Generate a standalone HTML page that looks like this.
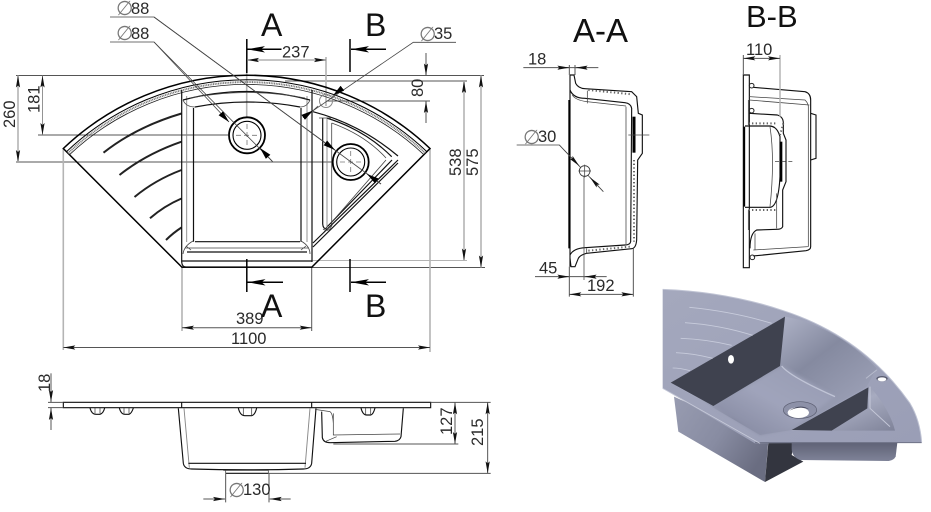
<!DOCTYPE html>
<html><head><meta charset="utf-8"><title>Corner sink drawing</title>
<style>
html,body{margin:0;padding:0;background:#fff;width:931px;height:512px;overflow:hidden}
svg{display:block}
text{font-family:"Liberation Sans",sans-serif;fill:#2a2a2a;font-size:16.5px}
.phi{font-family:"DejaVu Sans",sans-serif;fill:#777;font-size:20px}
.big{font-size:32px;fill:#111}
.d{stroke:#555;stroke-width:1;fill:none}
.g{stroke:#b4b4b4;stroke-width:1.6;fill:none}
.k{stroke:#111;stroke-width:1.2;fill:none}
.t{stroke:#444;stroke-width:.8;fill:none}
.m{stroke:#888;stroke-width:.9;fill:none}
.z .k{stroke-width:3.4}.z .t{stroke-width:2.3}.z .m{stroke-width:2.8}.z .d{stroke-width:3}.z .g{stroke-width:4.5}
</style></head><body>
<svg width="931" height="512" viewBox="0 0 931 512" xmlns="http://www.w3.org/2000/svg">
<defs>
<marker id="a" markerUnits="userSpaceOnUse" markerWidth="13" markerHeight="6" refX="12" refY="3" orient="auto-start-reverse"><path d="M0 .9L12 3L0 5.1L2 3Z" fill="#111"/></marker>
<marker id="b" markerUnits="userSpaceOnUse" markerWidth="19" markerHeight="8" refX="18" refY="4" orient="auto-start-reverse"><path d="M0 .8L18 4L0 7.2L4 4Z" fill="#000"/></marker>
<marker id="c" markerUnits="userSpaceOnUse" markerWidth="13" markerHeight="7" refX="12" refY="3.5" orient="auto-start-reverse"><path d="M0 .5L12 3.5L0 6.5Z" fill="#000"/></marker>
<marker id="az" markerUnits="userSpaceOnUse" markerWidth="39" markerHeight="18" refX="36" refY="9" orient="auto-start-reverse"><path d="M0 2.7L36 9L0 15.3L6 9Z" fill="#111"/></marker>
<linearGradient id="top" x1="0" y1="0" x2="1" y2="1"><stop offset="0" stop-color="#a4a8bd"/><stop offset="1" stop-color="#9a9eb6"/></linearGradient>
<linearGradient id="wall" x1="0" y1="0" x2="1" y2=".75"><stop offset="0" stop-color="#8f93a9"/><stop offset=".3" stop-color="#b4b8cc"/><stop offset=".62" stop-color="#858aa0"/><stop offset="1" stop-color="#a0a4ba"/></linearGradient>
<linearGradient id="floor" x1="0" y1="1" x2="1" y2="0"><stop offset="0" stop-color="#7f839b"/><stop offset=".5" stop-color="#a0a4bb"/><stop offset="1" stop-color="#959ab1"/></linearGradient>
<linearGradient id="side" x1="0" y1="0" x2="1" y2=".6"><stop offset="0" stop-color="#989cb1"/><stop offset=".55" stop-color="#888ca2"/><stop offset="1" stop-color="#6a6d81"/></linearGradient>
<linearGradient id="tub" x1="0" y1="0" x2="0" y2="1"><stop offset="0" stop-color="#5f6276"/><stop offset="1" stop-color="#7f8398"/></linearGradient>
<linearGradient id="sw" x1="0" y1="0" x2="1" y2="1"><stop offset="0" stop-color="#6f7388"/><stop offset=".5" stop-color="#a7abc0"/><stop offset="1" stop-color="#7f8399"/></linearGradient>
<filter id="bl" x="-10%" y="-10%" width="120%" height="120%"><feGaussianBlur stdDeviation="5"/></filter>
</defs>

<!-- PLAN: extension lines -->
<path class="d" d="M16 75.5H484M38 135H228M16 162H333M326 101H430"/>
<path class="g" style="stroke-width:1" d="M312 260.5H467"/>
<path class="d" d="M285 81H467M312 267.5H485"/>
<path class="g" d="M63.3 149V350M182 267V331M430 149V352M326 57V106M246.7 60V150"/>
<path class="d" d="M311.7 267V331"/>
<!-- PLAN: sink outline -->
<path d="M63.3 148.5A266 266 0 0 1 430 148.5L311.7 267.3H182Z" fill="none" stroke="#000" stroke-width="1.5"/>
<path d="M66.5 151.7A261.500 261.500 0 0 1 426.900 151.700" fill="none" stroke="#000" stroke-width="1"/>
<path d="M68 153.200A260 260 0 0 1 425.400 153.200" fill="none" stroke="#777" stroke-width="1.900" stroke-dasharray="1 .7"/>
<path d="M69.500 154.700A258.500 258.500 0 0 1 423.900 154.700" fill="none" stroke="#222" stroke-width=".8"/>
<!-- grooves -->
<g stroke="#222" stroke-width="2" fill="none">
<path d="M103.5 152.7Q136 127 181.5 113.5"/>
<path d="M119.5 175Q146 154 181.5 141.7"/>
<path d="M134.5 197Q155 180 181.5 170"/>
<path d="M150 218.3Q164 206 181.5 198.5"/>
<path d="M166 240Q173 233 181.5 227.5"/>
</g>
<!-- Main basin -->
<path class="k" d="M181.7 90V262Q182 267 186 267M181.7 261H312M181.7 267H312"/>
<path class="k" d="M312 90V245M312 245V262"/>
<path class="m" d="M186.7 96V242M307 96V242"/>
<path class="k" d="M193.5 108V241.7M301 108V241.7"/>
<path class="k" d="M183 100Q247 83 310 100"/>
<path class="k" d="M195 107Q247 97 300 107"/>
<path class="t" d="M190 98Q247 87 305 98"/>
<path class="k" d="M195 241.7H300M187 252H307"/>
<path class="t" d="M185 248H309M183 100Q186 107 195 107M310 100Q307 107 300 107M193 241Q184 246 183 254M301 241Q310 246 310 254M186 246L191 250M306 246L301 250"/>
<!-- Small basin -->
<path class="k" d="M313 111.7Q360 124 398 156M322.7 118V224Q323 229 327 229M326.7 118Q365 130 391.7 156.7"/>
<path class="t" d="M331.7 123Q365 135 386 158M331.7 123V226"/>
<path class="k" d="M326 228L392 160M313 243L398 160M313 247L398 163"/>
<path class="t" d="M319 118H331M323 229Q329 233 332 225"/>
<path class="t" d="M331 223L386 160M305 118L318 106"/>
<path class="m" d="M327 119V229"/>
<!-- holes -->
<circle cx="247" cy="135.3" r="18" fill="#fff" stroke="#000" stroke-width="1.8"/>
<circle cx="247" cy="135.3" r="14" fill="none" stroke="#000" stroke-width="1.1"/>
<circle cx="350.7" cy="162" r="18" fill="#fff" stroke="#000" stroke-width="1.8"/>
<circle cx="350.7" cy="162" r="14" fill="none" stroke="#000" stroke-width="1.1"/>
<path stroke="#777" stroke-width=".8" stroke-dasharray="5 3" d="M236 135.3H258M247 124V146M340 162H362M350.7 151V173"/>
<circle cx="326" cy="101" r="6.5" fill="none" stroke="#888" stroke-width="1"/>
<!-- Leaders -->
<path class="t" d="M110 17H154L381 184"/>
<path class="t" d="M110 42H154L272.7 161.7"/>
<path class="t" d="M456 42.3H413.3L303.3 117.3"/>
<path d="M154 42L229 122" class="t" marker-end="url(#c)"/>
<path d="M272 161L260 148" class="t" marker-end="url(#c)"/>
<path d="M154 17L335 150" class="t" marker-end="url(#c)"/>
<path d="M381 184L367 174" class="t" marker-end="url(#c)"/>
<path d="M340 90L333 95.5" class="t" marker-end="url(#c)"/>
<path d="M303 117.5L313 110.5" class="t" marker-end="url(#c)"/>
<!-- Section lines -->
<g stroke="#000" stroke-width="1.5" fill="none">
<path d="M246.8 39V73M350 39V72M246.8 259V292M350 259V292"/>
<path d="M281.5 49.3H247" marker-end="url(#b)"/>
<path d="M386 49.3H351" marker-end="url(#b)"/>
<path d="M283 282.3H247.500" marker-end="url(#b)"/>
<path d="M386 282.3H351" marker-end="url(#b)"/>
</g>
<!-- Dim lines -->
<path class="m" d="M247 60H326" marker-start="url(#a)" marker-end="url(#a)"/>
<path class="d" d="M182 327.7H311.7" marker-start="url(#a)" marker-end="url(#a)"/>
<path class="d" d="M63.3 347.5H430" marker-start="url(#a)" marker-end="url(#a)"/>
<path class="g" d="M18 75.5V162" marker-start="url(#a)" marker-end="url(#a)"/>
<path class="m" d="M42.5 75.5V135" marker-start="url(#a)" marker-end="url(#a)"/>
<path class="g" d="M464 81V260.5" marker-start="url(#a)" marker-end="url(#a)"/>
<path class="g" d="M481 75.5V267.5" marker-start="url(#a)" marker-end="url(#a)"/>
<path class="d" d="M426 53V75.5" marker-end="url(#a)"/>
<path class="d" d="M426 123V101" marker-end="url(#a)"/>
<!-- Plan text -->
<text class="phi" x="116" y="15">∅</text><text x="131" y="14">88</text>
<text class="phi" x="116" y="40">∅</text><text x="131" y="39">88</text>
<text class="phi" x="419" y="41">∅</text><text x="434" y="39">35</text>
<text x="282" y="57.5">237</text>
<text x="236" y="324">389</text>
<text x="231" y="344">1100</text>
<text transform="translate(15,128) rotate(-90)">260</text>
<text transform="translate(39.5,113) rotate(-90)">181</text>
<text transform="translate(423,97) rotate(-90)">80</text>
<text transform="translate(461,176) rotate(-90)">538</text>
<text transform="translate(478,176) rotate(-90)">575</text>
<text class="big" x="261" y="36">A</text>
<text class="big" x="365" y="36">B</text>
<text class="big" x="261" y="317">A</text>
<text class="big" x="365" y="317">B</text>

<!-- SIDE ELEVATION -->
<g class="z" transform="translate(20,370) scale(.33333)">
<path class="k" d="M130 97H1232V113H130Z"/>
<path class="k" d="M485 97V114M875 97V114"/>
<path class="d" d="M84 97H130M84 113H130M1232 97H1412M940 222H1315M745 310H1412"/>
<path class="k" d="M475 115L490 280Q493 297 515 297Q680 302 850 297Q872 297 875 280L888 115"/>
<path class="m" d="M492 115L508 293M870 115L855 293"/>
<path class="k" d="M505 280H858M610 300H745M617 310H745"/>
<path class="t" d="M617 300L617 310M745 300V310"/>
<path class="k" d="M905 125L907 203Q910 218 930 218L1125 214Q1140 212 1143 200L1150 115"/>
<path class="t" d="M940 130V195L1140 192M915 215L950 200M885 118L930 125Q938 130 940 160"/>
<path class="k" d="M210 114Q215 133 228 133H240Q250 130 254 114M298 114Q303 133 315 133H327Q335 130 340 114M655 114Q660 137 675 137H695Q705 135 710 114M1023 114Q1028 135 1040 135H1052Q1060 133 1065 114"/>
<path class="t" d="M225 114V130M240 114V130M312 114V130M327 114V130M670 114V135M695 114V135M1037 114V133M1052 114V133"/>
<path class="d" d="M93 10V96" marker-end="url(#az)"/>
<path class="d" d="M93 180V114" marker-end="url(#az)"/>
<path class="d" d="M1305 97V222" marker-start="url(#az)" marker-end="url(#az)"/>
<path class="d" d="M1403 97V310" marker-start="url(#az)" marker-end="url(#az)"/>
<path class="d" d="M617 310V397M747 310V397"/>
<path class="d" d="M550 387H615" marker-end="url(#az)"/>
<path class="d" d="M812 387H749" marker-end="url(#az)"/>
</g>
<text transform="translate(50,392) rotate(-90)">18</text>
<text transform="translate(452,435) rotate(-90)">127</text>
<text transform="translate(483,446) rotate(-90)">215</text>
<text class="phi" x="228" y="497">∅</text><text x="243" y="495">130</text>

<!-- A-A -->
<g class="z" transform="translate(510,0) scale(.33333)">
<path class="k" d="M180 225H192L197 250Q205 265 225 266L365 275L380 290L385 340L397 345V460L383 480L380 720Q378 745 365 746L230 760Q210 765 205 775L195 800H183L180 775"/>
<path class="k" d="M180 225V800"/>
<path d="M178 300V745" stroke="#000" stroke-width="6" fill="none"/>
<path class="k" d="M180 270Q190 295 225 295L345 308Q362 310 365 325L362 725Q360 735 345 735L225 743Q190 745 180 765"/>
<path class="t" d="M187 285Q195 300 230 305L348 318M232 272V310M230 745V760M348 320V732"/>
<path stroke="#666" stroke-width="6" stroke-dasharray="4 7" fill="none" d="M235 270L365 283M235 752L360 740M372 480L372 725"/>
<path d="M372 350V458" stroke="#000" stroke-width="9"/>
<path class="t" d="M355 405H418"/>
<path class="d" d="M40 203H265M178 195V225M195 195V225"/>
<path class="d" d="M145 203H178" marker-end="url(#az)"/>
<path class="d" d="M230 203H197" marker-end="url(#az)"/>
<path class="t" d="M20 435H148L280 575"/>
<path d="M148 435L208 498" class="t" marker-end="url(#az)"/>
<path d="M280 575L240 532" class="t" marker-end="url(#az)"/>
<circle cx="224" cy="513" r="16" fill="#fff" stroke="#333" stroke-width="2.5"/>
<path class="t" d="M205 513H243M224 494V532"/>
<path class="t" d="M222 530V840"/>
<path class="d" d="M75 830H290M178 800V890M370 745V890"/>
<path class="d" d="M145 830H178" marker-end="url(#az)"/>
<path class="d" d="M255 830H224" marker-end="url(#az)"/>
<path class="d" d="M178 883H370" marker-start="url(#az)" marker-end="url(#az)"/>
</g>
<text x="528" y="64.5">18</text>
<text class="phi" x="523" y="144">∅</text><text x="538" y="142">30</text>
<text x="539" y="273.5">45</text>
<text x="587" y="291">192</text>
<text class="big" style="font-size:33px" x="573" y="42">A-A</text>

<!-- B-B -->
<g class="z" transform="translate(720,0) scale(.33333)">
<path class="k" d="M70 225H88V803H70Z"/>
<path class="k" d="M100 262L255 275Q272 280 272 300V740Q272 750 258 752L100 768"/>
<path class="t" d="M88 290L255 300Q265 310 265 320V740M88 300L268 315M100 750L265 740"/>
<path class="k" d="M272 340L288 345V475L272 480"/>
<path class="k" d="M88 340L172 345Q190 350 190 370V400L198 420V545L188 570V680Q185 688 170 688L110 690Q90 700 90 745"/>
<path class="k" d="M75 378H150Q172 380 180 410V530Q175 620 150 622H75"/>
<path class="t" d="M150 380Q165 480 150 620M85 300V375M85 630V690M170 580V685M105 700V750"/>
<path d="M183 425V545" stroke="#000" stroke-width="8"/>
<path d="M73 380V620" stroke="#000" stroke-width="5"/>
<path stroke="#666" stroke-width="6" stroke-dasharray="4 7" fill="none" d="M85 370L170 370M85 630H170M190 370L180 405"/>
<circle cx="95" cy="257" r="7" fill="none" stroke="#222" stroke-width="3"/>
<circle cx="95" cy="332" r="7" fill="none" stroke="#222" stroke-width="3"/>
<circle cx="97" cy="772" r="7" fill="none" stroke="#222" stroke-width="3"/>
<path class="t" d="M165 485H218" stroke-dasharray="12 8"/>
<path class="d" d="M70 165V225"/>
<path class="g" d="M180 165V350"/>
<path class="d" d="M70 175H180" marker-start="url(#az)" marker-end="url(#az)"/>
</g>
<text x="746" y="55">110</text>
<text class="big" style="font-size:31px" x="746" y="27">B-B</text>

<!-- 3D render -->
<g transform="translate(650,280) scale(.33333)">
<path d="M72 350L85 455L345 606L355 480Z" fill="url(#side)"/>
<path d="M355 488H432L425 525L460 545L345 606Z" fill="#33353f"/>
<path d="M425 488H742L737 530Q730 543 712 543L450 540Q425 530 425 505Z" fill="url(#tub)"/>
<path d="M38 28Q230 35 400 92Q640 170 780 370Q810 420 815 487L315 490L38 325Z" fill="url(#top)"/>
<path d="M38 28Q230 35 400 92Q640 170 780 370Q810 420 815 487" fill="none" stroke="#c0c4d4" stroke-width="3"/>
<path d="M315 488H815" stroke="#6d7085" stroke-width="3"/>
<path d="M405 110Q560 140 680 265L650 320L425 450L330 465L62 308Z" fill="url(#wall)"/>
<path d="M190 378L395 258L555 350L425 447L330 465Z" fill="url(#floor)" filter="url(#bl)"/>
<path d="M405 110L62 308L190 378L390 258Z" fill="#3f424f"/>
<path d="M395 258Q420 290 555 350" stroke="#c0c4d6" stroke-width="4" fill="none"/>
<ellipse cx="243" cy="238" rx="9" ry="13" fill="#fff"/>
<ellipse cx="450" cy="390" rx="50" ry="25" fill="#8d91a8" stroke="#5a5d70" stroke-width="2"/>
<ellipse cx="445" cy="398" rx="32" ry="16" fill="#fff"/>
<path d="M418 392Q450 370 478 388Q450 376 418 392Z" fill="#44465a"/>
<path d="M660 320Q720 390 735 452L425 452Z" fill="url(#sw)"/>
<path d="M655 322L425 450L545 452L652 385Z" fill="#3f424f"/>
<path d="M660 320V385L720 440" fill="none" stroke="#c5c8d8" stroke-width="3"/>
<path d="M648 295L680 270" stroke="#b8bccd" stroke-width="3"/>
<ellipse cx="696" cy="296" rx="17" ry="8" fill="#5a5d70"/>
<ellipse cx="696" cy="298" rx="13" ry="6" fill="#fff"/>
<g stroke="#c8ccdc" stroke-width="2.5" fill="none">
<path d="M118 82Q250 95 365 130"/>
<path d="M105 128Q210 135 308 166"/>
<path d="M92 175Q170 178 245 196"/>
<path d="M78 218Q130 220 188 235"/>
<path d="M68 264Q90 264 120 272"/>
</g>
<path d="M38 325L330 490" stroke="#c6c9d8" stroke-width="2.5"/>
</g>
</svg>
</body></html>
